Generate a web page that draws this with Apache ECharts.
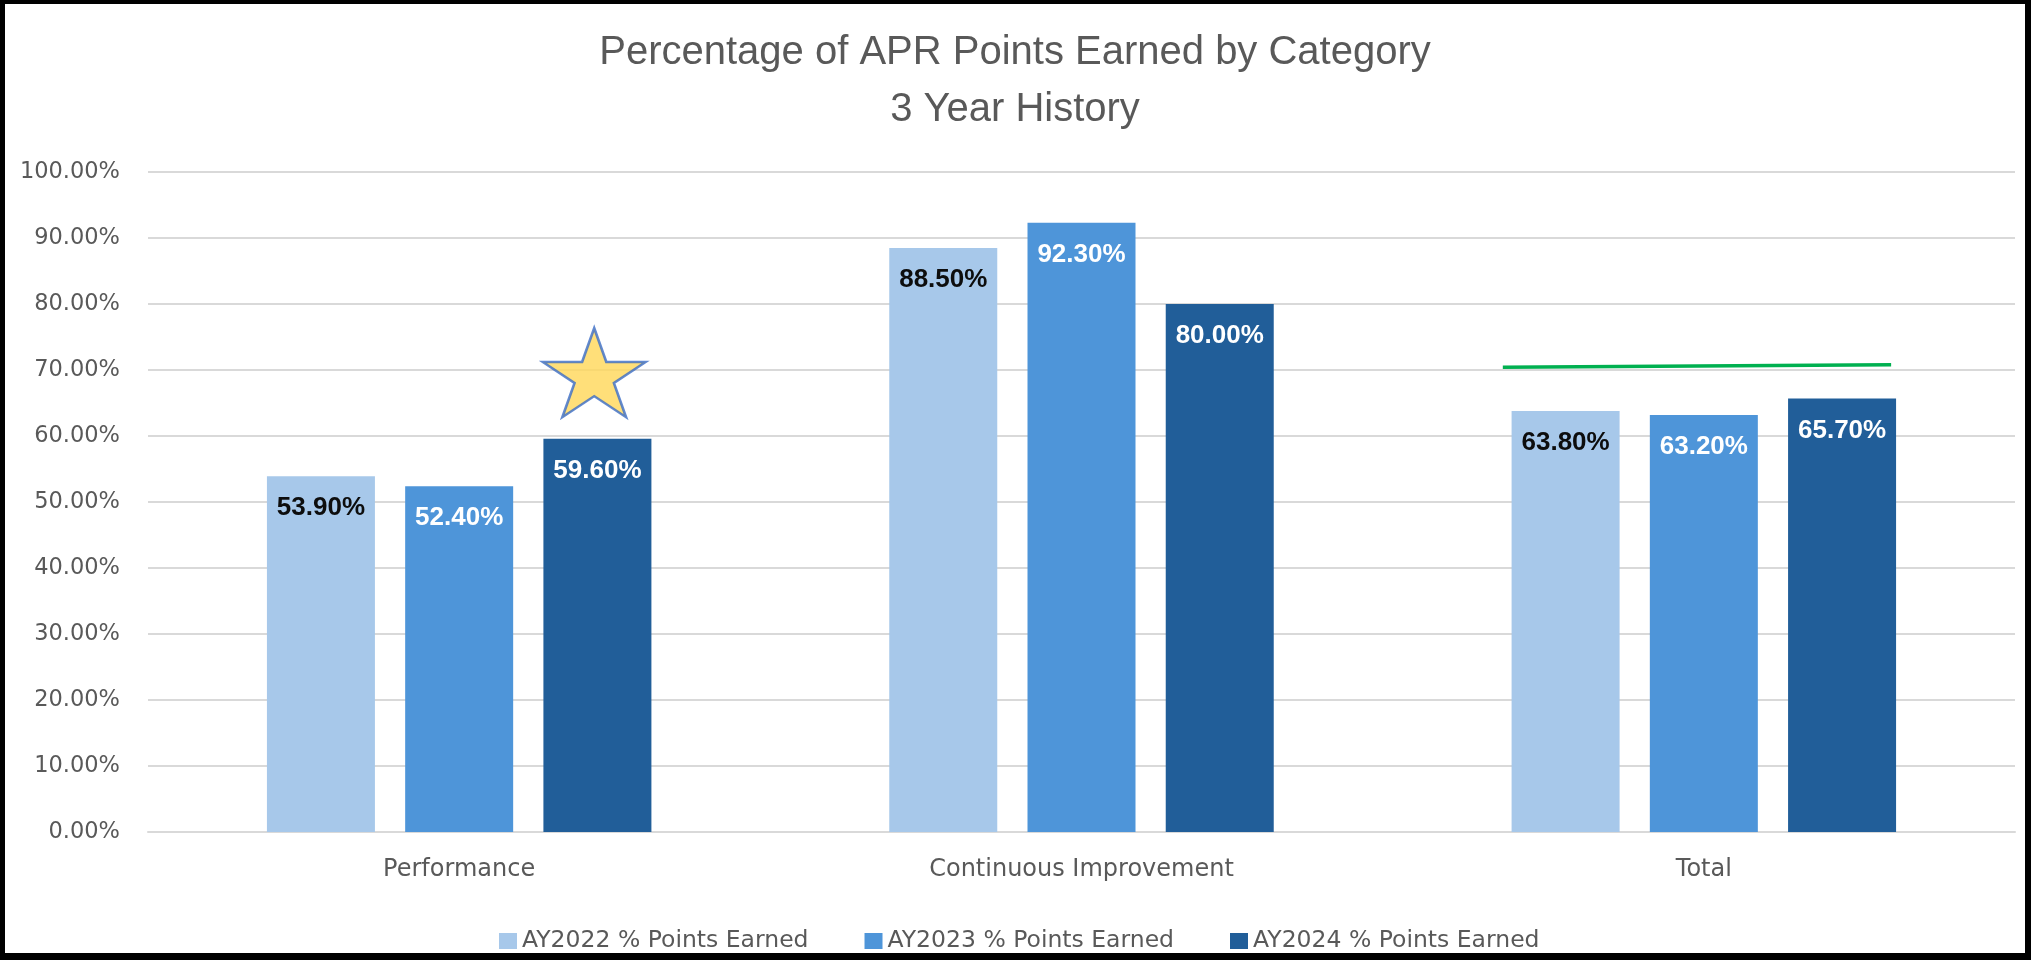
<!DOCTYPE html>
<html>
<head>
<meta charset="utf-8">
<title>Percentage of APR Points Earned by Category</title>
<script src="https://cdn.jsdelivr.net/npm/echarts@6/dist/echarts.min.js"></script>
<style>
  html, body { margin: 0; padding: 0; background: #fff; }
  #chart {
    width: 2031px;
    height: 960px;
    box-sizing: border-box;
    border-style: solid;
    border-color: #000;
    border-width: 4px 6px 7px 5px;
  }
</style>
</head>
<body>
<div id="chart"></div>
<script>
const categories = ['Performance', 'Continuous Improvement', 'Total']
const seriesNames = ['AY2022 % Points Earned', 'AY2023 % Points Earned', 'AY2024 % Points Earned']
const ay2022 = [53.9, 88.5, 63.8]
const ay2023 = [52.4, 92.3, 63.2]
const ay2024 = [59.6, 80.0, 65.7]
// annotations, in (category index, percent) space
const starPoint = [[0.717, 69.6]]
const targetLine = [[2.177, 70.4], [2.801, 70.8]]

const barColors = ['#A7C8EA', '#4E95D9', '#215E99']
const labelColors = ['#0D0D0D', '#FFFFFF', '#FFFFFF']
const starPath = 'path://M50,0 L61.8,36.2 L100,36.2 L69.1,58.6 L80.9,95.1 L50,72.7 L19.1,95.1 L30.9,58.6 L0,36.2 L38.2,36.2 Z'

const chart = echarts.init(document.getElementById('chart'))

const barSeries = [ay2022, ay2023, ay2024].map((vals, i) => ({
  name: seriesNames[i],
  type: 'bar',
  data: vals,
  barWidth: 108,
  barGap: '28%',
  itemStyle: { color: barColors[i] },
  label: {
    show: true,
    position: 'insideTop',
    distance: 19,
    color: labelColors[i],
    fontFamily: 'Liberation Sans',
    fontWeight: 'bold',
    fontSize: 26,
    lineHeight: 26,
    formatter: p => p.value.toFixed(2) + '%'
  }
}))

const option = {
  animation: false,
  backgroundColor: '#fff',
  title: {
    text: 'Percentage of APR Points Earned by Category\n3 Year History',
    left: 'center',
    top: 15,
    textStyle: {
      color: '#595959',
      fontFamily: 'Liberation Sans',
      fontWeight: 'normal',
      fontSize: 40,
      lineHeight: 57
    }
  },
  legend: {
    data: seriesNames,
    left: 489,
    top: 920,
    itemWidth: 18,
    itemHeight: 16,
    itemGap: 56,
    icon: 'rect',
    textStyle: { color: '#595959', fontFamily: 'DejaVu Sans', fontSize: 23.5 }
  },
  grid: { left: 143, right: 10, top: 168, bottom: 121 },
  xAxis: [
    {
      type: 'category',
      data: categories,
      axisTick: { show: false },
      axisLine: { lineStyle: { color: '#D9D9D9', width: 2 } },
      axisLabel: { color: '#595959', fontFamily: 'DejaVu Sans', fontSize: 24, margin: 26 }
    },
    { type: 'value', min: 0, max: 3, show: false }
  ],
  yAxis: {
    type: 'value',
    min: 0,
    max: 100,
    interval: 10,
    axisLine: { show: false },
    axisTick: { show: false },
    splitLine: { lineStyle: { color: '#D9D9D9', width: 2 } },
    axisLabel: {
      color: '#595959',
      fontFamily: 'DejaVu Sans',
      fontSize: 22.5,
      margin: 28,
      formatter: v => v.toFixed(2) + '%'
    }
  },
  series: [
    ...barSeries,
    {
      name: 'target',
      type: 'line',
      xAxisIndex: 1,
      data: targetLine,
      symbol: 'none',
      lineStyle: { color: '#00B050', width: 3.5 },
      z: 5
    },
    {
      name: 'star',
      type: 'scatter',
      xAxisIndex: 1,
      data: starPoint,
      symbol: starPath,
      symbolSize: [103, 89],
      itemStyle: { color: '#FFD757', borderColor: '#3A6BC6', borderWidth: 2.5 },
      z: 5
    }
  ]
}

chart.setOption(option)
</script>
</body>
</html>
